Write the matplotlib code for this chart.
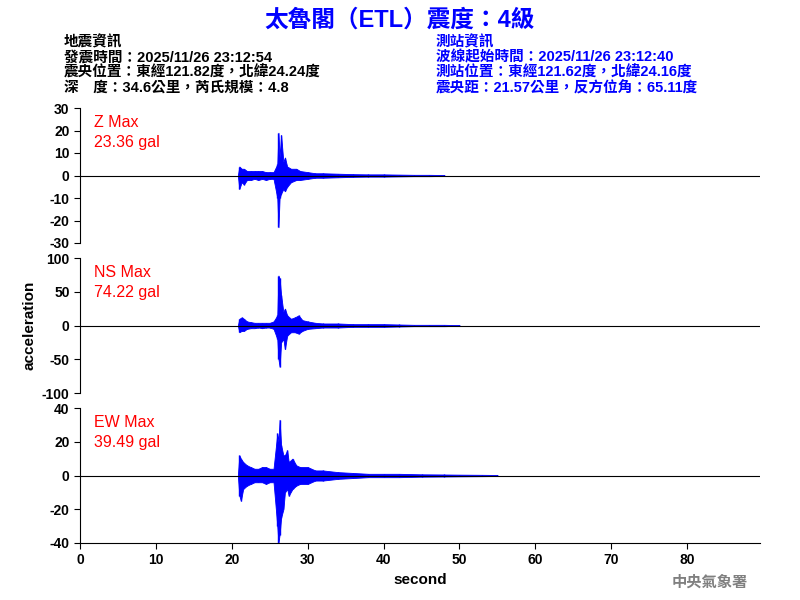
import matplotlib
matplotlib.use('Agg')
import matplotlib.pyplot as plt

plt.rcParams['font.family'] = ['Liberation Sans', 'Noto Sans CJK TC', 'DejaVu Sans']
plt.rcParams['axes.unicode_minus'] = False

# 各成分の包絡線 (時間, 上限, 下限)
z_t = [20.8, 21.0, 21.3, 21.6, 22.0, 22.5, 23.0, 23.5, 24.0, 24.5, 25.0, 25.5, 26.0, 26.15, 26.3, 26.5, 26.8, 27.0, 27.3, 27.8, 28.5, 29.0, 30.0, 31, 32, 34, 36, 38, 40, 42, 44, 46, 48]
z_up = [0, 4, 3, 3, 2, 2, 2, 2, 2, 1.5, 1.5, 1.5, 5, 19, 8, 18, 6, 8, 4, 3, 3, 2, 1.5, 1, 1, 0.8, 0.6, 0.5, 0.5, 0.4, 0.3, 0.3, 0.2]
z_lo = [0, -6, -3, -4, -2, -2, -1.5, -2, -1.5, -2, -1.5, -1.5, -10, -23, -10, -8, -6, -7, -5, -3, -2, -2, -1.5, -1, -1, -0.8, -0.6, -0.5, -0.5, -0.4, -0.3, -0.3, -0.2]

ns_t = [20.8, 21.0, 21.3, 21.6, 22.0, 22.5, 23.0, 23.5, 24.0, 24.5, 25.0, 25.5, 26.0, 26.15, 26.3, 26.5, 26.8, 27.0, 27.3, 27.8, 28.3, 28.8, 29.3, 30, 31, 32, 34, 36, 38, 40, 42, 44, 46, 48, 50]
ns_up = [0, 10, 12, 10, 6, 5, 4, 4, 4, 4, 4, 6, 15, 74, 70, 45, 20, 25, 15, 10, 12, 15, 8, 6, 4, 3, 3, 2, 2, 2, 1.5, 1, 1, 1, 0.5]
ns_lo = [0, -10, -8, -8, -5, -4, -4, -3, -4, -3, -3, -5, -20, -50, -61, -25, -20, -35, -15, -10, -10, -12, -8, -5, -4, -3, -3, -2, -2, -2, -1.5, -1, -1, -1, -0.5]

ew_t = [20.8, 21.0, 21.2, 21.5, 22.0, 22.5, 23.0, 23.5, 24.0, 24.5, 25.0, 25.5, 26.0, 26.15, 26.3, 26.5, 26.8, 27.0, 27.3, 27.5, 28.0, 28.5, 29, 30, 31, 32, 34, 36, 38, 40, 42, 45, 48, 50, 53, 55]
ew_up = [0, 12, 10, 8, 6, 5, 4, 4, 5, 5, 4, 4, 25, 20, 33, 18, 12, 12, 15, 8, 10, 6, 5, 5, 3, 3, 2, 1.5, 1, 1, 1, 0.7, 0.6, 0.5, 0.4, 0.3]
ew_lo = [0, -12, -15, -8, -6, -5, -4, -4, -4, -5, -4, -4, -30, -40, -35, -25, -20, -10, -8, -12, -8, -6, -5, -5, -3, -3, -2, -1.5, -1, -1, -1, -0.7, -0.6, -0.5, -0.4, -0.3]

channels = [('Z Max\n23.36 gal', z_t, z_up, z_lo, (-30, 30), [-30, -20, -10, 0, 10, 20, 30]),
            ('NS Max\n74.22 gal', ns_t, ns_up, ns_lo, (-100, 100), [-100, -50, 0, 50, 100]),
            ('EW Max\n39.49 gal', ew_t, ew_up, ew_lo, (-40, 40), [-40, -20, 0, 20, 40])]

fig = plt.figure(figsize=(8, 6), dpi=100)
bottoms = [0.595, 0.345, 0.095]
for i, (label, t, up, lo, ylim, yt) in enumerate(channels):
    ax = fig.add_axes([0.1, bottoms[i], 0.85, 0.225])
    ax.fill_between(t, lo, up, color='blue', linewidth=0.6)
    ax.vlines(t, lo, up, color='blue', linewidth=1)
    ax.axhline(0, color='black', linewidth=0.8)
    ax.set_xlim(0, 89.6)
    ax.set_ylim(*ylim)
    ax.set_yticks(yt)
    ax.spines['top'].set_visible(False)
    ax.spines['right'].set_visible(False)
    ax.tick_params(labelsize=10, length=4)
    for lb in ax.get_yticklabels() + ax.get_xticklabels():
        lb.set_fontweight('bold')
    ax.text(0.02, 0.95, label, transform=ax.transAxes, color='red', fontsize=11.5, va='top', linespacing=1.4)
    if i < 2:
        ax.spines['bottom'].set_visible(False)
        ax.set_xticks([])
    else:
        ax.set_xticks(range(0, 90, 10))
        for lb in ax.get_xticklabels():
            lb.set_fontweight('bold')
        ax.set_xlabel('second', fontsize=11, fontweight='bold')
    if i == 1:
        ax.set_ylabel('acceleration', fontsize=11, fontweight='bold')

fig.text(0.5, 0.967, '太魯閣（ETL）震度：4級', color='blue', fontsize=17, fontweight='bold', ha='center', va='center')
left = '地震資訊\n發震時間：2025/11/26 23:12:54\n震央位置：東經121.82度，北緯24.24度\n深　度：34.6公里，芮氏規模：4.8'
right = '測站資訊\n波線起始時間：2025/11/26 23:12:40\n測站位置：東經121.62度，北緯24.16度\n震央距：21.57公里，反方位角：65.11度'
fig.text(0.08, 0.942, left, color='black', fontsize=10.5, fontweight='bold', va='top', linespacing=1.1)
fig.text(0.545, 0.942, right, color='blue', fontsize=10.5, fontweight='bold', va='top', linespacing=1.1)
fig.text(0.935, 0.03, '中央氣象署', color='gray', fontsize=11, fontweight='bold', ha='right', va='center')

fig.savefig('out.png')
